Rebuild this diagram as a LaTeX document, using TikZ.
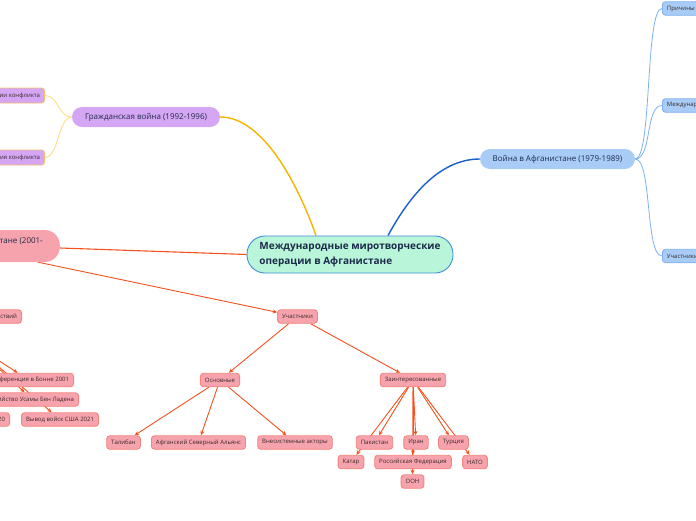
\documentclass[tikz,border=0pt]{standalone}
\usepackage{fontspec}
\setmainfont{Open Sans}
\usetikzlibrary{arrows.meta,calc}
\pgfdeclarelayer{bg}
\pgfsetlayers{bg,main}
\definecolor{pinkfill}{HTML}{F7A3AD}
\definecolor{pinkline}{HTML}{F2857C}
\definecolor{redline}{HTML}{F4511E}
\definecolor{purplefill}{HTML}{D4A6F3}
\definecolor{goldline}{HTML}{F5B400}
\definecolor{yelline}{HTML}{FFDD88}
\definecolor{kidborder}{HTML}{F6BE6E}
\definecolor{bluefill}{HTML}{A9CCF7}
\definecolor{blueline}{HTML}{1A5FD0}
\definecolor{lightblue}{HTML}{7FB0F2}
\definecolor{mint}{HTML}{B9F5D9}
\definecolor{centborder}{HTML}{3D8FD6}
\definecolor{navy}{HTML}{1C2B4A}
\definecolor{smalltext}{HTML}{3A2A2A}
\begin{document}
\begin{tikzpicture}[x=1pt,y=-1pt,
  small/.style={font=\fontsize{6}{7}\selectfont, text=smalltext, rounded corners=3pt,
    inner xsep=4.5pt, inner ysep=1pt, minimum height=13.5pt, line width=0.9pt},
  pinkbox/.style={small, draw=pinkline, fill=pinkfill},
  purplekid/.style={small, draw=kidborder, fill=purplefill, minimum height=15pt},
  bluekid/.style={small, draw=lightblue, fill=bluefill},
  mid/.style={font=\fontsize{8}{10}\selectfont, text=navy, minimum height=20pt,
    rounded corners=10pt, inner xsep=8pt},
  redarrow/.style={draw=redline, line width=0.9pt, -{Stealth[length=4.5pt,width=4pt]}},
  redline/.style={draw=redline, line width=1.1pt},
  goldcurve/.style={draw=goldline, line width=1.4pt},
  bluecurve/.style={draw=blueline, line width=1.4pt},
  yelcurve/.style={draw=yelline, line width=0.9pt},
  lbcurve/.style={draw=lightblue, line width=0.8pt}
]
\useasboundingbox (0,0) rectangle (696,520);
\clip (0,0) rectangle (696,520);

% central
\node[draw=centborder, fill=mint, line width=0.9pt, rounded corners=18pt,
  minimum width=206pt, minimum height=37pt, align=left, text=navy,
  font=\fontsize{10}{15}\selectfont\bfseries] (c) at (350,254.5)
  {Международные миротворческие\\операции в Афганистане};

% main branches
\node[mid, fill=purplefill, minimum width=148pt] (gr) at (146,117) {Гражданская война (1992-1996)};
\node[mid, fill=bluefill, minimum width=155pt] (war) at (557.5,159) {Война в Афганистане (1979-1989)};
\node[mid, fill=pinkfill, anchor=east, align=left, rounded corners=15pt,
  inner xsep=17pt, inner ysep=6pt, minimum height=32pt] (pink) at (60,246)
  {Война в Афганистане (2001-\\2021)};

% purple kids
\node[purplekid, anchor=east] (k1) at (45,95.5) {Причины эскалации конфликта};
\node[purplekid, anchor=east] (k2) at (45,157.5) {Последствия конфликта};

% blue kids
\node[bluekid, anchor=west] (r1) at (662,8.5) {Причины войны};
\node[bluekid, anchor=west] (r2) at (662,105.5) {Международная реакция};
\node[bluekid, anchor=west] (r3) at (662,256) {Участники войны};

% pink tree
\node[pinkbox, anchor=east] (hod) at (22,316.5) {Ход боевых действий};
\node[pinkbox] (uch) at (297.5,316.5) {Участники};
\node[pinkbox] (osn) at (220,380) {Основные};
\node[pinkbox] (zain) at (413,380) {Заинтересованные};
\node[pinkbox] (tal) at (123.5,442.5) {Талибан};
\node[pinkbox] (asa) at (198.5,442.5) {Афганский Северный Альянс};
\node[pinkbox] (vne) at (295,442.5) {Внесистемные акторы};
\node[pinkbox] (pak) at (374.5,442.5) {Пакистан};
\node[pinkbox] (iran) at (416,442.5) {Иран};
\node[pinkbox] (tur) at (453.5,442.5) {Турция};
\node[pinkbox] (kat) at (351,462) {Катар};
\node[pinkbox] (rf) at (413,462) {Российская Федерация};
\node[pinkbox] (nato) at (475,462) {НАТО};
\node[pinkbox] (oon) at (412.5,481.5) {ООН};
\node[pinkbox, anchor=east] (bonn) at (74,380) {Конференция в Бонне 2001};
\node[pinkbox, anchor=east] (usa) at (79,399.5) {Убийство Усамы Бен Ладена};
\node[pinkbox, anchor=east] (doha) at (10,419.5) {Соглашение в Дохе 2020};
\node[pinkbox] (vyv) at (60,419.5) {Вывод войск США 2021};
\coordinate (p) at (-30,342);

\begin{pgfonlayer}{bg}
  \clip (0,0) rectangle (696,520);
  \draw[goldcurve] (gr.east) .. controls (265,117) and (300,190) .. ([xshift=-34pt]c.north);
  \draw[bluecurve] ([xshift=38pt]c.north) .. controls (410,195) and (440,159) .. (war.west);
  \draw[redline] (c.west) -- ([yshift=-2pt]pink.east);
  \foreach \k in {k1,k2}
    \draw[yelcurve] (gr.west) .. controls +(-14,0) and +(14,0) .. (\k.east);
  \foreach \r in {r1,r2,r3}
    \draw[lbcurve] (war.east) .. controls +(17,0) and +(-17,0) .. (\r.west);
  \draw[redarrow] ([xshift=-22pt]pink.south east) -- (uch);
  \draw[redarrow] (uch) -- (osn);
  \draw[redarrow] (uch) -- (zain);
  \foreach \t in {tal,asa,vne}
    \draw[redarrow] (osn) -- (\t);
  \foreach \t in {pak,kat,iran,rf,oon,tur,nato}
    \draw[redarrow] (zain) -- (\t);
  \foreach \t in {bonn,usa,vyv}
    \draw[redarrow] (p) -- (\t);
\end{pgfonlayer}
\end{tikzpicture}
\end{document}
